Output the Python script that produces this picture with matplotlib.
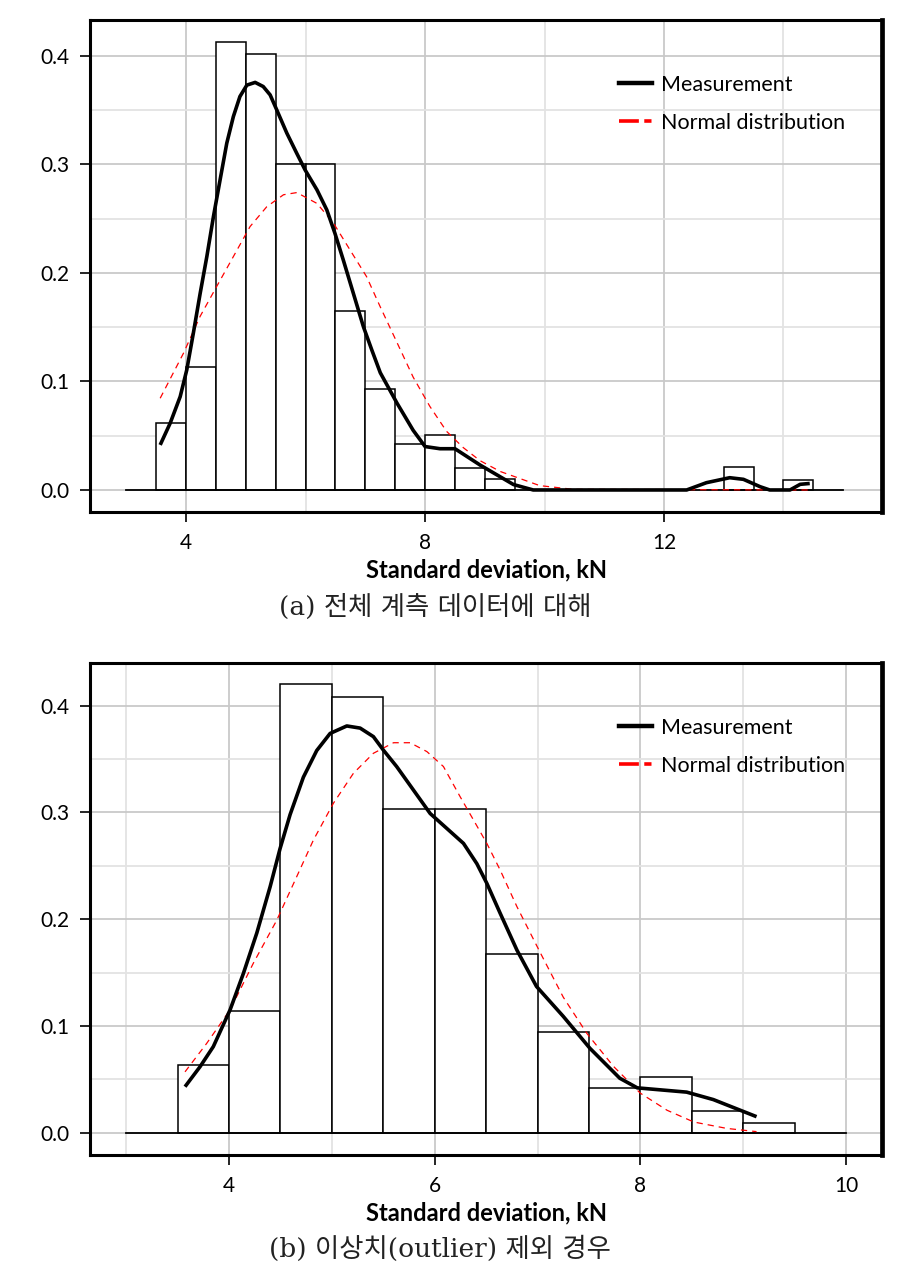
import matplotlib
matplotlib.use("Agg")
import matplotlib.pyplot as plt
from matplotlib.lines import Line2D
from matplotlib.ticker import FixedLocator, FormatStrFormatter

plt.rcParams['font.family'] = ['Lato', 'DejaVu Sans']

# ---------------- data: panel (a) ----------------
bin_width = 0.5
bins_a = [3.5, 4.0, 4.5, 5.0, 5.5, 6.0, 6.5, 7.0, 7.5, 8.0, 8.5, 9.0, 13.0, 14.0]
freq_a = [0.062, 0.113, 0.413, 0.402, 0.300, 0.300, 0.165, 0.093, 0.042, 0.051, 0.020, 0.010, 0.021, 0.009]
base_a = [3.0, 15.0]
meas_a_x = [3.565, 3.732, 3.90, 4.01, 4.12, 4.234, 4.346, 4.457, 4.569, 4.68, 4.79, 4.90, 5.016, 5.155,
            5.29, 5.406, 5.518, 5.685, 5.853, 5.99, 6.19, 6.355, 6.49, 6.63, 6.80, 6.967, 7.108, 7.25,
            7.53, 7.80, 8.0, 8.25, 8.5, 8.92, 9.2, 9.48, 9.81, 12.38, 12.71, 13.10, 13.33, 13.61, 13.77,
            14.11, 14.28, 14.44]
meas_a_y = [0.0415, 0.0615, 0.086, 0.1106, 0.1444, 0.181, 0.215, 0.252, 0.286, 0.3195, 0.344, 0.3625, 0.373,
            0.3755, 0.3717, 0.364, 0.350, 0.3288, 0.310, 0.295, 0.2765, 0.258, 0.2366, 0.212, 0.181, 0.1505,
            0.129, 0.108, 0.080, 0.055, 0.040, 0.038, 0.038, 0.023, 0.014, 0.005, 0.0, 0.0, 0.0067, 0.0113,
            0.0098, 0.003, 0.0, 0.0, 0.0052, 0.006]
norm_a_x = [3.565, 3.955, 4.234, 4.51, 4.79, 5.07, 5.35, 5.63, 5.853, 6.19, 6.465, 6.745, 7.02, 7.247,
            7.52, 7.80, 8.08, 8.36, 8.64, 8.92, 9.26, 9.92, 10.48, 14.44]
norm_a_y = [0.0845, 0.126, 0.160, 0.1874, 0.215, 0.2427, 0.261, 0.272, 0.274, 0.264, 0.246, 0.221, 0.1966,
            0.169, 0.137, 0.104, 0.077, 0.054, 0.039, 0.027, 0.017, 0.004, 0.0006, 0.0]

# ---------------- data: panel (b) ----------------
bins_b = [3.5, 4.0, 4.5, 5.0, 5.5, 6.0, 6.5, 7.0, 7.5, 8.0, 8.5, 9.0]
freq_b = [0.063, 0.114, 0.420, 0.408, 0.303, 0.303, 0.167, 0.094, 0.042, 0.052, 0.020, 0.009]
base_b = [3.0, 10.0]
meas_b_x = [3.572, 3.718, 3.847, 4.01, 4.139, 4.27, 4.40, 4.496, 4.594, 4.723, 4.853, 4.983, 5.145, 5.275,
            5.404, 5.50, 5.63, 5.793, 5.956, 6.118, 6.28, 6.41, 6.507, 6.637, 6.80, 6.99, 7.25, 7.51,
            7.80, 7.97, 8.45, 8.71, 9.13]
meas_b_y = [0.0431, 0.0618, 0.0806, 0.115, 0.149, 0.187, 0.2305, 0.266, 0.298, 0.333, 0.358, 0.374, 0.381,
            0.379, 0.371, 0.3585, 0.343, 0.321, 0.299, 0.285, 0.271, 0.252, 0.2336, 0.2055, 0.171, 0.137,
            0.109, 0.079, 0.051, 0.042, 0.038, 0.031, 0.015]
norm_b_x = [3.572, 3.783, 4.01, 4.236, 4.464, 4.659, 4.82, 5.015, 5.21, 5.404, 5.60, 5.761, 5.924, 6.085,
            6.247, 6.377, 6.507, 6.637, 6.80, 7.03, 7.25, 7.48, 7.74, 8.0, 8.26, 8.52, 8.84, 9.13]
norm_b_y = [0.057, 0.0837, 0.115, 0.1587, 0.199, 0.240, 0.274, 0.3086, 0.3367, 0.3554, 0.3653, 0.3653, 0.357,
            0.343, 0.3148, 0.293, 0.271, 0.246, 0.2117, 0.168, 0.127, 0.093, 0.062, 0.037, 0.021, 0.010,
            0.004, 0.001]

yticks = [0.0, 0.1, 0.2, 0.3, 0.4]
yminor = [0.05, 0.15, 0.25, 0.35]
xticks_a = [4, 8, 12]
xminor_a = [6, 10, 14]
xticks_b = [4, 6, 8, 10]
xminor_b = [3, 5, 7, 9]

xlabel = "Standard deviation, kN"
legend_labels = ["Measurement", "Normal distribution"]
caption_a = "(a) 전체 계측 데이터에 대해"
caption_b = "(b) 이상치(outlier) 제외 경우"

W, H = 911, 1282
fig = plt.figure(figsize=(W / 100, H / 100), dpi=100)

def panel(rect, bins, freq, base, mx, my, nx, ny, xt, xm, xlim, ylim):
    ax = fig.add_axes(rect)
    ax.set_xlim(*xlim)
    ax.set_ylim(*ylim)
    ax.set_axisbelow(True)
    ax.xaxis.set_major_locator(FixedLocator(xt))
    ax.xaxis.set_minor_locator(FixedLocator(xm))
    ax.yaxis.set_major_locator(FixedLocator(yticks))
    ax.yaxis.set_minor_locator(FixedLocator(yminor))
    ax.yaxis.set_major_formatter(FormatStrFormatter('%.1f'))
    ax.grid(which='major', color='#c9c9c9', lw=1.3)
    ax.grid(which='minor', color='#e3e3e3', lw=1.3)
    ax.tick_params(which='minor', length=0)
    ax.tick_params(which='major', direction='out', length=7, width=1.2,
                   labelsize=15, pad=8, colors='black')
    for s in ['left', 'bottom', 'top']:
        ax.spines[s].set_linewidth(2.2)
    ax.spines['right'].set_linewidth(3.4)
    ax.bar(bins, freq, width=bin_width, align='edge', facecolor='white',
           edgecolor='black', lw=1.1, zorder=2)
    ax.plot(base, [0, 0], color='black', lw=1.3, zorder=3)
    ax.plot(nx, ny, color='red', lw=0.9, dashes=(5, 4), zorder=4)
    ax.plot(mx, my, color='black', lw=2.6, zorder=5,
            solid_capstyle='butt', solid_joinstyle='round')
    ax.set_xlabel(xlabel, fontsize=17, fontweight='bold', labelpad=4)
    handles = [Line2D([], [], color='black', lw=3.2),
               Line2D([], [], color='red', lw=2.6, linestyle=(0, (5.5, 1.5, 2.0, 1.5)))]
    ax.legend(handles, legend_labels, loc='upper left', bbox_to_anchor=(0.668, 0.889),
              frameon=False, fontsize=15.5, handlelength=1.55, handletextpad=0.4,
              labelspacing=0.84, borderpad=0, borderaxespad=0)
    return ax

ax1 = panel([90 / W, 1 - 512 / H, 792 / W, 492 / H], bins_a, freq_a, base_a,
            meas_a_x, meas_a_y, norm_a_x, norm_a_y, xticks_a, xminor_a,
            (2.39, 15.65), (-0.0203, 0.433))
ax2 = panel([90 / W, 1 - 1155 / H, 792 / W, 491.7 / H], bins_b, freq_b, base_b,
            meas_b_x, meas_b_y, norm_b_x, norm_b_y, xticks_b, xminor_b,
            (2.648, 10.35), (-0.0209, 0.4397))

cap_font = ['DejaVu Serif', 'Noto Sans CJK KR']
fig.text(435 / W, 1 - 607 / H, caption_a, ha='center', va='center', fontsize=19,
         family=cap_font, color='#222222')
fig.text(440 / W, 1 - 1249 / H, caption_b, ha='center', va='center', fontsize=19,
         family=cap_font, color='#222222')

fig.savefig("out.png", dpi=100, facecolor='white')
